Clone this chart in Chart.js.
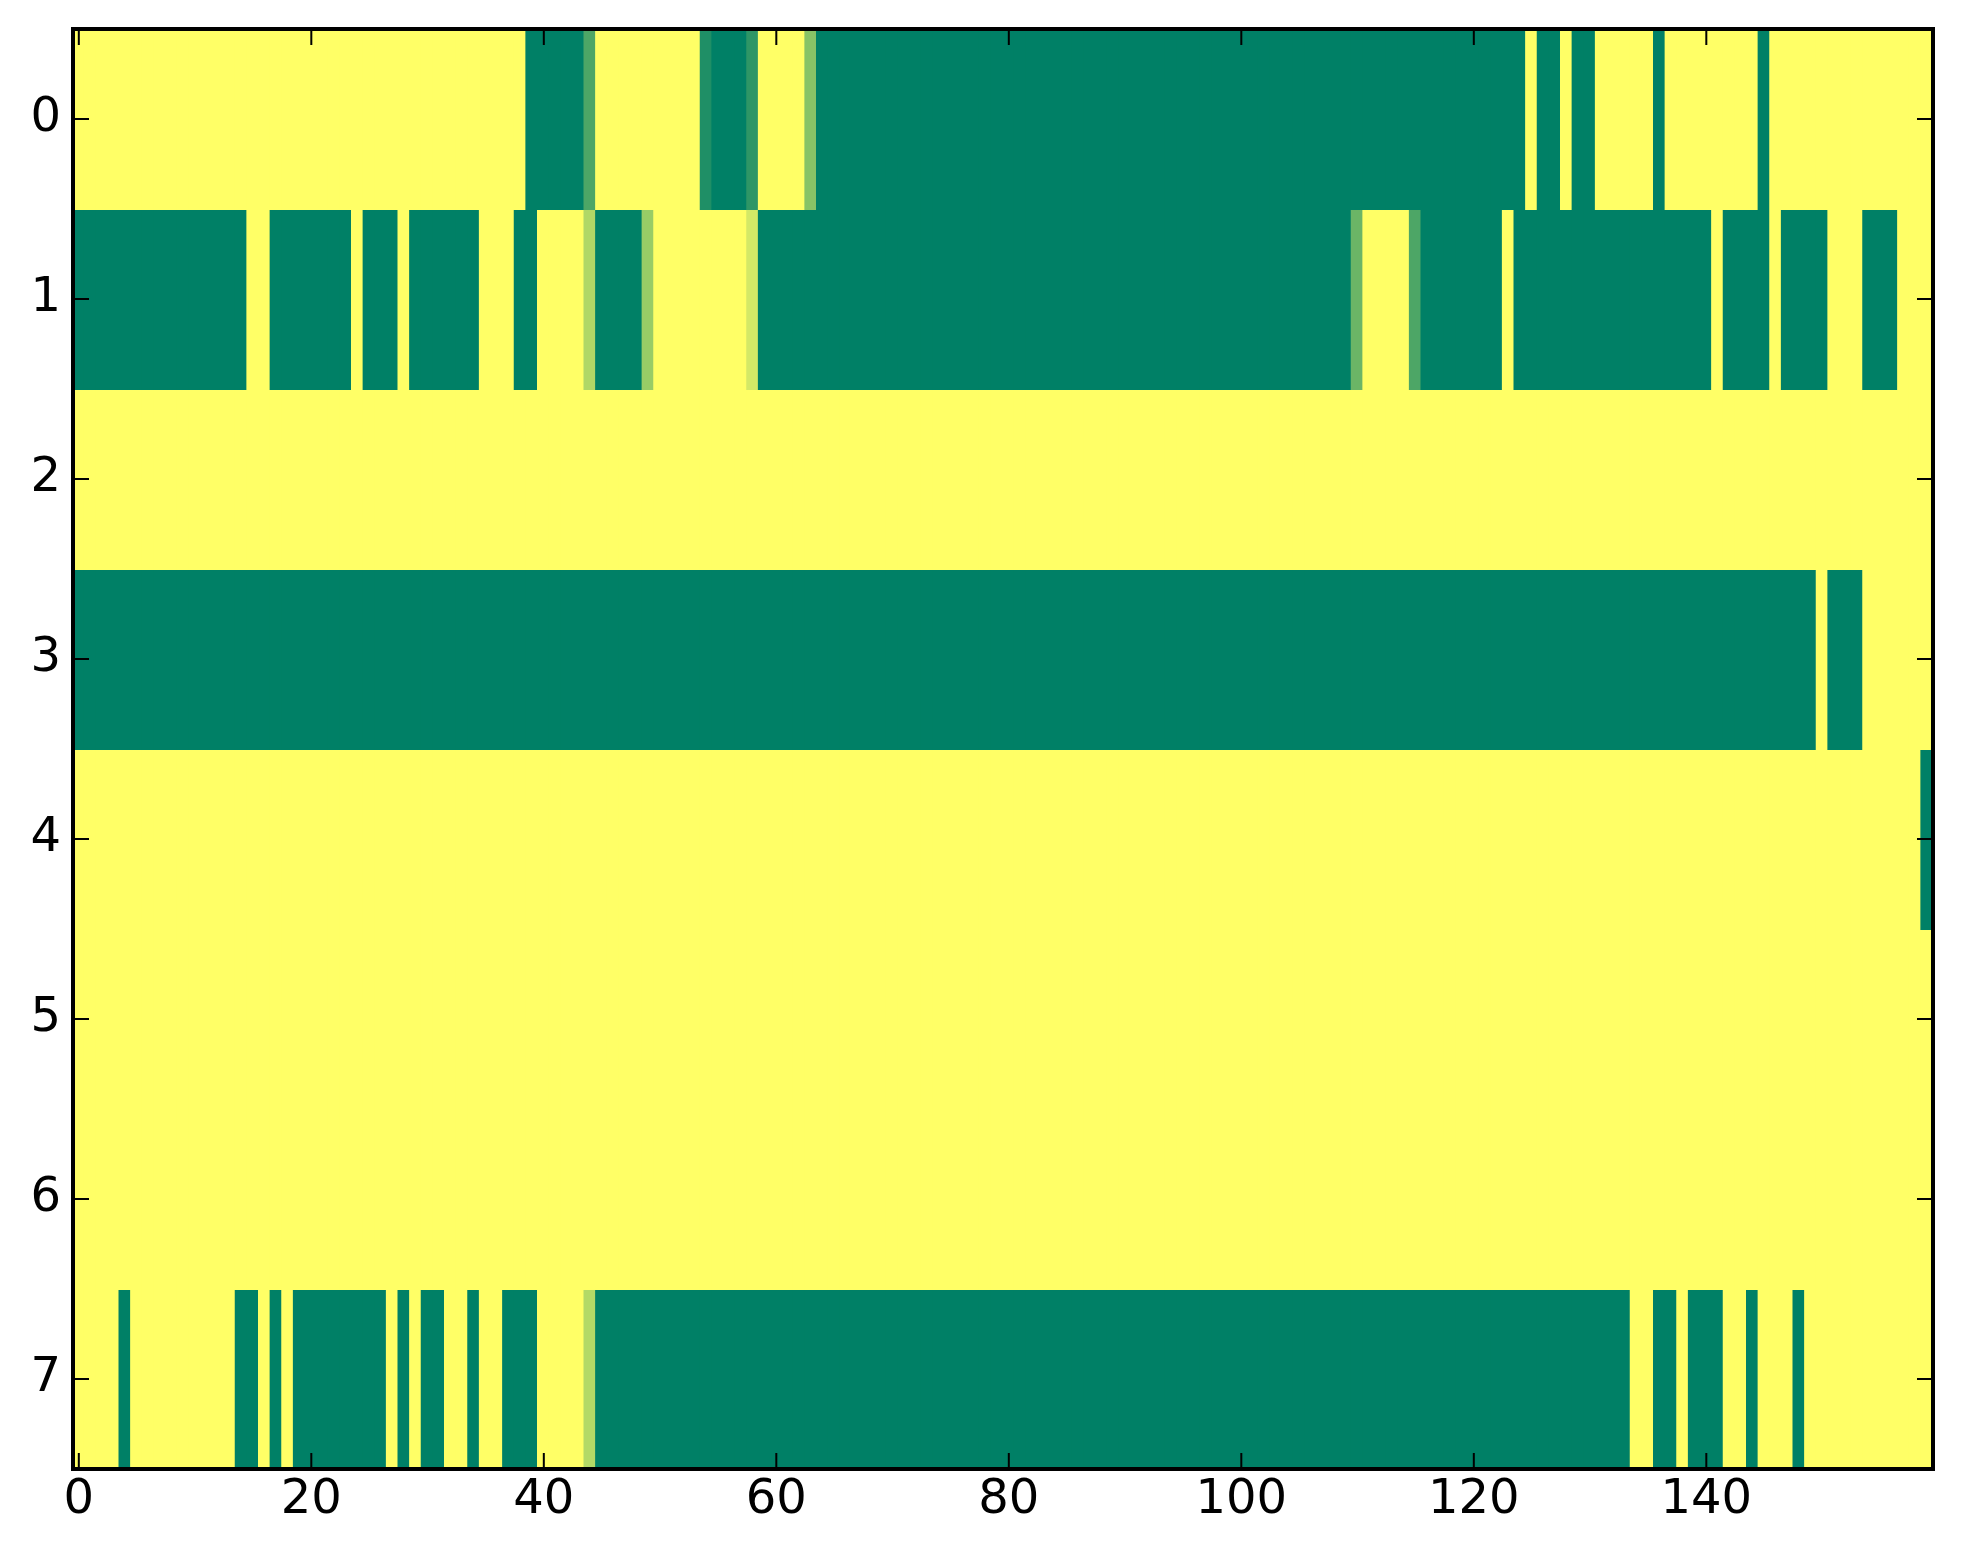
<!DOCTYPE html>
<html>
<head>
<meta charset="utf-8">
<script src="https://cdn.jsdelivr.net/npm/chart.js@4"></script>
<style>
  html, body { margin: 0; padding: 0; background: #fff; }
  #wrap { width: 1963px; height: 1564px; }
</style>
</head>
<body>
<div id="wrap"><canvas id="heat"></canvas></div>
<script>
// column indices 0..159 and the tick labels shown on each axis
const columns = Array.from({ length: 160 }, (_, i) => String(i));
const xTicks = [0, 20, 40, 60, 80, 100, 120, 140];
const yTicks = [0, 1, 2, 3, 4, 5, 6, 7];

// one array of 160 cell values per row (0 = green, 1 = yellow)
const row0 = [
  1,1,1,1,1,1,1,1,1,1,1,1,1,1,1,1,1,1,1,1,
  1,1,1,1,1,1,1,1,1,1,1,1,1,1,1,1,1,1,1,0,
  0,0,0,0,0.3,1,1,1,1,1,1,1,1,1,0.12,0,0,0,0.18,1,
  1,1,1,0.53,0,0,0,0,0,0,0,0,0,0,0,0,0,0,0,0,
  0,0,0,0,0,0,0,0,0,0,0,0,0,0,0,0,0,0,0,0,
  0,0,0,0,0,0,0,0,0,0,0,0,0,0,0,0,0,0,0,0,
  0,0,0,0,0,1,0,0,1,0,0,1,1,1,1,1,0,1,1,1,
  1,1,1,1,1,0,1,1,1,1,1,1,1,1,1,1,1,1,1,1
];
const row1 = [
  0,0,0,0,0,0,0,0,0,0,0,0,0,0,0,1,1,0,0,0,
  0,0,0,0,1,0,0,0,1,0,0,0,0,0,0,1,1,1,0,0,
  1,1,1,1,0.69,0,0,0,0,0.6,1,1,1,1,1,1,1,1,0.83,0,
  0,0,0,0,0,0,0,0,0,0,0,0,0,0,0,0,0,0,0,0,
  0,0,0,0,0,0,0,0,0,0,0,0,0,0,0,0,0,0,0,0,
  0,0,0,0,0,0,0,0,0,0,0.42,1,1,1,1,0.3,0,0,0,0,
  0,0,0,1,0,0,0,0,0,0,0,0,0,0,0,0,0,0,0,0,
  0,1,0,0,0,0,1,0,0,0,0,1,1,1,0,0,0,1,1,1
];
const row2 = [
  1,1,1,1,1,1,1,1,1,1,1,1,1,1,1,1,1,1,1,1,
  1,1,1,1,1,1,1,1,1,1,1,1,1,1,1,1,1,1,1,1,
  1,1,1,1,1,1,1,1,1,1,1,1,1,1,1,1,1,1,1,1,
  1,1,1,1,1,1,1,1,1,1,1,1,1,1,1,1,1,1,1,1,
  1,1,1,1,1,1,1,1,1,1,1,1,1,1,1,1,1,1,1,1,
  1,1,1,1,1,1,1,1,1,1,1,1,1,1,1,1,1,1,1,1,
  1,1,1,1,1,1,1,1,1,1,1,1,1,1,1,1,1,1,1,1,
  1,1,1,1,1,1,1,1,1,1,1,1,1,1,1,1,1,1,1,1
];
const row3 = [
  0,0,0,0,0,0,0,0,0,0,0,0,0,0,0,0,0,0,0,0,
  0,0,0,0,0,0,0,0,0,0,0,0,0,0,0,0,0,0,0,0,
  0,0,0,0,0,0,0,0,0,0,0,0,0,0,0,0,0,0,0,0,
  0,0,0,0,0,0,0,0,0,0,0,0,0,0,0,0,0,0,0,0,
  0,0,0,0,0,0,0,0,0,0,0,0,0,0,0,0,0,0,0,0,
  0,0,0,0,0,0,0,0,0,0,0,0,0,0,0,0,0,0,0,0,
  0,0,0,0,0,0,0,0,0,0,0,0,0,0,0,0,0,0,0,0,
  0,0,0,0,0,0,0,0,0,0,1,0,0,0,1,1,1,1,1,1
];
const row4 = [
  1,1,1,1,1,1,1,1,1,1,1,1,1,1,1,1,1,1,1,1,
  1,1,1,1,1,1,1,1,1,1,1,1,1,1,1,1,1,1,1,1,
  1,1,1,1,1,1,1,1,1,1,1,1,1,1,1,1,1,1,1,1,
  1,1,1,1,1,1,1,1,1,1,1,1,1,1,1,1,1,1,1,1,
  1,1,1,1,1,1,1,1,1,1,1,1,1,1,1,1,1,1,1,1,
  1,1,1,1,1,1,1,1,1,1,1,1,1,1,1,1,1,1,1,1,
  1,1,1,1,1,1,1,1,1,1,1,1,1,1,1,1,1,1,1,1,
  1,1,1,1,1,1,1,1,1,1,1,1,1,1,1,1,1,1,1,0
];
const row5 = [
  1,1,1,1,1,1,1,1,1,1,1,1,1,1,1,1,1,1,1,1,
  1,1,1,1,1,1,1,1,1,1,1,1,1,1,1,1,1,1,1,1,
  1,1,1,1,1,1,1,1,1,1,1,1,1,1,1,1,1,1,1,1,
  1,1,1,1,1,1,1,1,1,1,1,1,1,1,1,1,1,1,1,1,
  1,1,1,1,1,1,1,1,1,1,1,1,1,1,1,1,1,1,1,1,
  1,1,1,1,1,1,1,1,1,1,1,1,1,1,1,1,1,1,1,1,
  1,1,1,1,1,1,1,1,1,1,1,1,1,1,1,1,1,1,1,1,
  1,1,1,1,1,1,1,1,1,1,1,1,1,1,1,1,1,1,1,1
];
const row6 = [
  1,1,1,1,1,1,1,1,1,1,1,1,1,1,1,1,1,1,1,1,
  1,1,1,1,1,1,1,1,1,1,1,1,1,1,1,1,1,1,1,1,
  1,1,1,1,1,1,1,1,1,1,1,1,1,1,1,1,1,1,1,1,
  1,1,1,1,1,1,1,1,1,1,1,1,1,1,1,1,1,1,1,1,
  1,1,1,1,1,1,1,1,1,1,1,1,1,1,1,1,1,1,1,1,
  1,1,1,1,1,1,1,1,1,1,1,1,1,1,1,1,1,1,1,1,
  1,1,1,1,1,1,1,1,1,1,1,1,1,1,1,1,1,1,1,1,
  1,1,1,1,1,1,1,1,1,1,1,1,1,1,1,1,1,1,1,1
];
const row7 = [
  1,1,1,1,0,1,1,1,1,1,1,1,1,1,0,0,1,0,1,0,
  0,0,0,0,0,0,0,1,0,1,0,0,1,1,0,1,1,0,0,0,
  1,1,1,1,0.7,0,0,0,0,0,0,0,0,0,0,0,0,0,0,0,
  0,0,0,0,0,0,0,0,0,0,0,0,0,0,0,0,0,0,0,0,
  0,0,0,0,0,0,0,0,0,0,0,0,0,0,0,0,0,0,0,0,
  0,0,0,0,0,0,0,0,0,0,0,0,0,0,0,0,0,0,0,0,
  0,0,0,0,0,0,0,0,0,0,0,0,0,0,1,1,0,0,1,0,
  0,0,1,1,0,1,1,1,0,1,1,1,1,1,1,1,1,1,1,1
];

const rows = [row0, row1, row2, row3, row4, row5, row6, row7];

// matplotlib "summer" colormap
function summer(v) {
  const r = Math.round(255 * v);
  const g = Math.round(127.5 + 127.5 * v);
  return `rgb(${r},${g},102)`;
}

// inward tick marks on all four sides plus the axes frame
const frameTicks = {
  id: 'frameTicks',
  afterDraw(chart) {
    const { ctx, chartArea: a, scales: { x, y } } = chart;
    const len = 16;
    ctx.save();
    ctx.strokeStyle = '#000';
    ctx.lineWidth = 2;
    ctx.beginPath();
    xTicks.forEach(v => {
      const px = x.getPixelForValue(v);
      ctx.moveTo(px, a.top); ctx.lineTo(px, a.top + len);
      ctx.moveTo(px, a.bottom); ctx.lineTo(px, a.bottom - len);
    });
    yTicks.forEach(v => {
      const py = y.getPixelForValue(v);
      ctx.moveTo(a.left, py); ctx.lineTo(a.left + len, py);
      ctx.moveTo(a.right, py); ctx.lineTo(a.right - len, py);
    });
    ctx.stroke();
    ctx.lineWidth = 4;
    ctx.strokeRect(a.left, a.top, a.width, a.height);
    ctx.restore();
  }
};

const tickFont = { family: 'DejaVu Sans', size: 48 };

// fixed axis sizes so the plot area lands where the original's does
function noPad(s) {
  s.paddingLeft = 0; s.paddingRight = 0; s.paddingTop = 0; s.paddingBottom = 0;
}

new Chart(document.getElementById('heat'), {
  type: 'bar',
  data: {
    labels: columns,
    datasets: rows.map((vals, r) => ({
      data: vals.map(() => [r - 0.5, r + 0.5]),
      backgroundColor: vals.map(summer),
      borderWidth: 0,
      inflateAmount: 1,
      barPercentage: 1,
      categoryPercentage: 1,
      grouped: false
    }))
  },
  options: {
    responsive: true,
    maintainAspectRatio: false,
    devicePixelRatio: 1,
    animation: false,
    layout: { padding: { left: 0, right: 30, top: 29, bottom: 0 } },
    plugins: { legend: { display: false }, tooltip: { enabled: false } },
    scales: {
      x: {
        type: 'category',
        grid: { display: false, drawTicks: false },
        border: { display: false },
        afterBuildTicks: s => { s.ticks = xTicks.map(v => ({ value: v })); },
        afterFit: s => { s.height = 95; noPad(s); },
        ticks: { autoSkip: false, maxRotation: 0, minRotation: 0, padding: 3, color: '#000', font: tickFont }
      },
      y: {
        type: 'linear',
        reverse: true,
        min: -0.5,
        max: 7.5,
        grid: { display: false, drawTicks: false },
        border: { display: false },
        afterBuildTicks: s => { s.ticks = yTicks.map(v => ({ value: v })); },
        afterFit: s => { s.width = 73; noPad(s); },
        ticks: { padding: 12, color: '#000', font: tickFont }
      }
    }
  },
  plugins: [frameTicks]
});
</script>
</body>
</html>
